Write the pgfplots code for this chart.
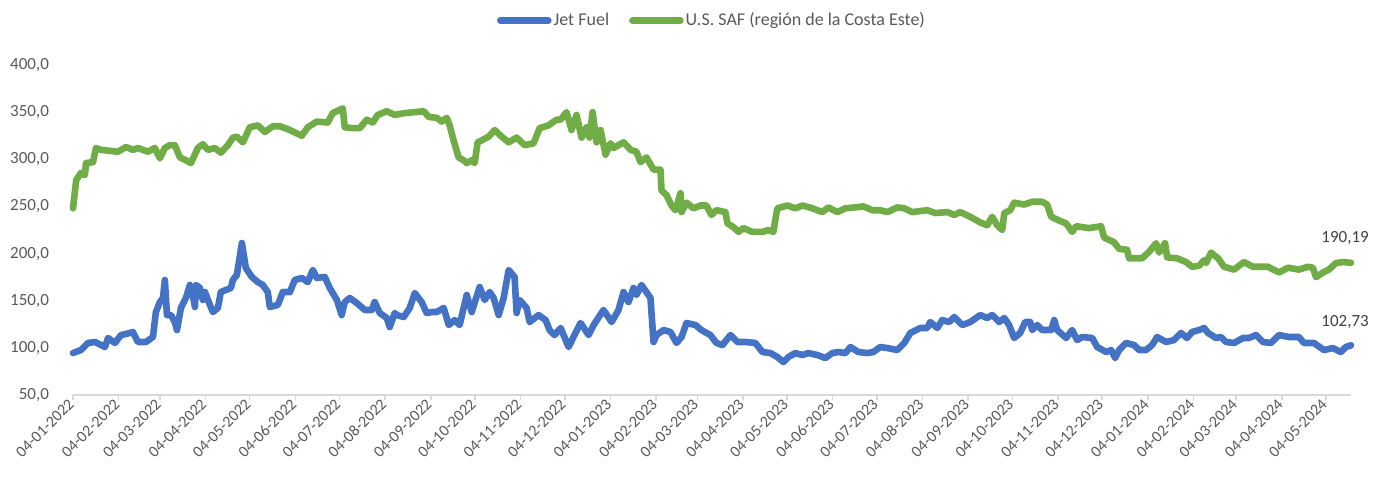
\documentclass[border=0pt]{standalone}
\usepackage{fontspec}
\setmainfont{Carlito}
\usepackage{pgfplots}
\pgfplotsset{compat=1.18}
\definecolor{cblue}{HTML}{4472C4}
\definecolor{cgreen}{HTML}{70AD47}
\definecolor{cgrid}{HTML}{D9D9D9}
\definecolor{ctext}{HTML}{595959}
\definecolor{clab}{HTML}{404040}
\begin{document}
\begin{tikzpicture}
\path[use as bounding box] (-36.5pt,-44pt) rectangle (658.5pt,197.5pt);
\begin{axis}[
  scale only axis, width=639pt, height=165pt,
  xmin=0, xmax=868, ymin=50, ymax=400,
  clip=false,
  axis x line*=bottom, axis y line*=left,
  x axis line style={draw=cgrid, line width=0.75pt, -},
  y axis line style={draw=none},
  xtick style={draw=cgrid, line width=0.75pt},
  ytick style={draw=none},
  tick align=outside, major tick length=2.5pt,
  ytick={50,100,...,400},
  xtick={0,31,59,90,120,151,181,212,243,273,304,334,365,396,424,455,485,516,546,577,608,638,669,699,730,761,790,821,851},
  xticklabels={04-01-2022,04-02-2022,04-03-2022,04-04-2022,04-05-2022,04-06-2022,04-07-2022,04-08-2022,04-09-2022,04-10-2022,04-11-2022,04-12-2022,04-01-2023,04-02-2023,04-03-2023,04-04-2023,04-05-2023,04-06-2023,04-07-2023,04-08-2023,04-09-2023,04-10-2023,04-11-2023,04-12-2023,04-01-2024,04-02-2024,04-03-2024,04-04-2024,04-05-2024},
  xticklabel style={rotate=45, anchor=east, font=\fontsize{8}{9.5}\selectfont, text=ctext, inner sep=1pt},
  yticklabel style={font=\fontsize{8.5}{10}\selectfont, text=ctext, xshift=-6pt},
  /pgf/number format/.cd, use comma, fixed, fixed zerofill, precision=1, 1000 sep={}, assume math mode=true,
  /pgfplots/.cd,
  legend columns=2,
  legend style={at={(0.5,1.135)}, anchor=center, draw=none, fill=none,
    font=\fontsize{9}{10.5}\selectfont, text=ctext, nodes={inner sep=1pt},
    /tikz/every even column/.append style={column sep=9pt}},
  legend cell align=left,
  legend image code/.code={\draw[#1, line cap=round] (0pt,0pt) -- (24pt,0pt);},
  every axis plot/.append style={line width=3.3pt, line cap=round, line join=round},
]
\addplot[cblue] table {
0 94.5
5.4 97.7
10.2 105.2
14.9 106.2
19.0 103.0
21.7 100.9
23.8 110.5
28.5 105.2
32.6 113.6
38.7 115.8
40.7 116.8
44.1 106.2
49.5 106.2
54.3 111.5
56.3 138.0
59.0 148.6
61.1 152.9
62.4 172.0
63.8 134.8
66.5 134.8
69.2 127.4
70.6 118.9
73.3 142.3
76.7 152.9
79.4 166.7
81.4 156.1
82.8 143.3
83.5 166.7
86.2 163.5
88.2 150.8
89.6 159.2
93.0 145.5
95.0 138.0
98.4 142.3
100.4 159.2
103.8 161.4
107.2 163.5
108.6 172.0
111.3 177.3
114.7 211.2
117.4 184.7
121.5 175.2
125.5 169.8
128.9 166.7
132.3 159.2
133.7 143.3
139.1 145.5
142.5 159.2
147.3 159.2
150.6 172.0
155.4 174.1
159.5 169.8
162.9 182.6
165.6 174.1
171.0 175.2
174.4 163.5
179.2 150.8
182.5 134.8
184.6 148.6
188.0 152.9
192.7 147.6
198.2 140.2
202.9 140.2
204.9 148.6
208.3 137.0
213.1 131.7
215.1 122.1
218.5 137.0
219.9 134.8
224.6 132.7
228.7 142.3
232.1 158.2
236.8 148.6
240.2 137.0
243.6 138.0
247.0 138.0
251.8 142.3
255.2 124.2
259.2 129.5
262.6 124.2
267.4 156.1
270.8 138.0
276.2 164.5
279.6 150.8
283.0 159.2
285.7 152.9
289.1 134.8
292.5 152.9
295.9 182.6
299.9 175.2
301.3 137.0
303.3 150.8
308.1 142.3
310.1 127.4
316.2 134.8
321.0 129.5
323.7 118.9
327.1 113.6
331.2 121.1
336.6 100.9
341.3 115.8
344.7 126.4
350.2 113.6
353.6 124.2
360.3 140.2
365.8 127.4
370.5 140.2
373.9 159.2
377.3 148.6
380.7 163.5
382.7 156.1
386.1 166.7
392.2 152.9
394.3 106.2
396.3 113.6
401.1 118.9
405.8 116.8
409.9 105.2
413.3 111.5
416.7 126.4
422.8 124.2
426.8 118.9
432.9 113.6
437.0 105.2
441.1 103.0
446.5 113.6
451.3 106.2
456.7 106.2
463.5 105.2
468.2 95.6
473.7 94.5
478.4 90.3
482.5 85.0
485.9 90.3
490.6 94.5
495.4 92.4
499.4 94.5
505.6 92.4
511.0 89.2
515.7 94.5
519.8 95.6
524.6 94.5
528.0 100.9
533.4 95.6
539.5 94.5
543.6 95.6
548.3 100.9
553.1 99.8
559.8 97.7
564.6 105.2
568.7 115.8
575.5 121.1
580.2 121.1
582.2 127.4
587.0 121.1
590.4 129.5
595.1 127.4
598.5 132.7
604.0 124.2
609.4 127.4
616.2 134.8
620.9 131.7
624.3 134.8
629.1 127.4
632.5 131.7
635.8 124.2
639.2 110.5
643.3 115.8
646.7 127.4
650.1 127.4
651.5 118.9
654.9 124.2
658.2 118.9
664.4 118.9
666.4 129.5
668.4 118.9
674.5 110.5
678.6 118.9
682.0 108.3
685.4 111.5
692.2 110.5
695.6 100.9
701.7 95.6
705.1 97.7
707.8 89.2
710.5 97.7
715.2 105.2
720.7 103.0
724.1 97.7
728.8 97.7
732.9 103.0
736.3 111.5
742.4 106.2
747.8 108.3
752.6 115.8
756.6 110.5
760.0 116.8
764.8 118.9
768.2 121.1
770.9 115.8
776.3 110.5
779.7 111.5
783.1 106.2
788.6 105.2
794.7 110.5
798.7 110.5
803.5 113.6
808.2 106.2
813.7 105.2
819.1 113.6
825.9 111.5
832.6 111.5
836.0 105.2
842.8 105.2
849.6 97.7
855.7 99.8
861.1 95.6
864.5 100.9
868.0 102.73
};
\addlegendentry{Jet Fuel}
\addplot[cgreen] table {
0 248
2.2 278
5.4 285.5
8.1 283.3
8.8 296
13.6 297
15.6 312
19.0 310
30.5 308
36.0 313
40.7 310
44.1 312
50.9 308
55.6 312
59.0 301
62.4 312
65.8 315
69.2 315
72.6 302
76.7 299
80.1 296
84.8 312
88.2 316
91.6 310
96.4 312
100.4 307
105.2 315
108.6 323
111.3 324
115.4 318
120.1 334
125.5 336
130.3 329
135.7 335
140.5 335
145.9 332
155.4 325
159.5 334
165.6 340
173.0 339
176.4 349
183.2 354
184.6 334
190.0 333
194.8 333
199.5 342
203.6 339
207.0 347
213.1 351
218.5 347
225.3 349
232.1 350
238.2 351
241.6 345
247.0 344
250.4 340
253.8 344
255.8 336
258.5 320
261.9 302
265.3 299
267.4 296
270.8 299
272.8 296
274.8 318
277.5 320
282.3 324
286.4 331
291.1 324
295.9 318
301.3 323
306.7 315
312.8 317
316.9 333
323.0 336
328.4 342
331.2 342
335.2 350
338.6 331
342.0 347
345.4 323
348.8 334
350.8 323
352.9 350
355.6 318
358.3 331
361.7 305
365.1 317
367.1 312
373.9 318
378.7 310
382.7 308
385.4 297
389.5 302
394.3 289
399.0 289
399.7 267
403.1 262
406.5 251
409.2 246
412.6 264
413.3 244
416.7 254
421.4 248
426.2 251
430.2 251
433.6 241
437.0 246
443.1 244
444.5 232
448.6 228
452.0 223
455.3 227
461.4 223
468.2 223
472.3 225
475.7 223
477.0 236
478.4 248
485.2 251
490.6 248
495.4 251
502.2 248
508.9 244
513.0 249
519.1 244
524.6 248
531.3 249
536.8 250
542.9 246
548.3 246
553.1 244
559.8 249
564.6 248
570.0 244
580.2 246
585.6 243
593.8 244
598.5 241
602.6 244
609.4 239
616.2 233
620.9 230
624.3 239
627.7 230
631.1 225
632.5 243
636.5 246
639.2 254
646.0 252
651.5 255
658.2 255
661.6 252
664.4 239
669.8 235
674.5 232
678.6 223
681.3 229
690.1 227
698.3 229
700.3 217
707.1 212
710.5 205
715.9 204
717.3 195
726.1 195
730.9 202
735.6 211
737.7 201
741.7 211
743.1 196
749.9 195
756.0 191
760.0 186
764.8 187
768.2 193
769.5 190
772.9 201
777.7 195
781.8 186
788.6 183
795.3 191
801.4 186
811.6 186
819.1 180
825.2 185
832.6 183
838.7 186
842.1 185
844.2 175
849.0 180
853.0 183
857.8 190
862.5 191
868.0 190.19
};
\addlegendentry{U.S. SAF (región de la Costa Este)}
\node[font=\fontsize{8.5}{10}\selectfont, text=clab] at (axis cs:864,216.5) {190,19};
\node[font=\fontsize{8.5}{10}\selectfont, text=clab] at (axis cs:864,127.4) {102,73};
\end{axis}
\end{tikzpicture}
\end{document}
